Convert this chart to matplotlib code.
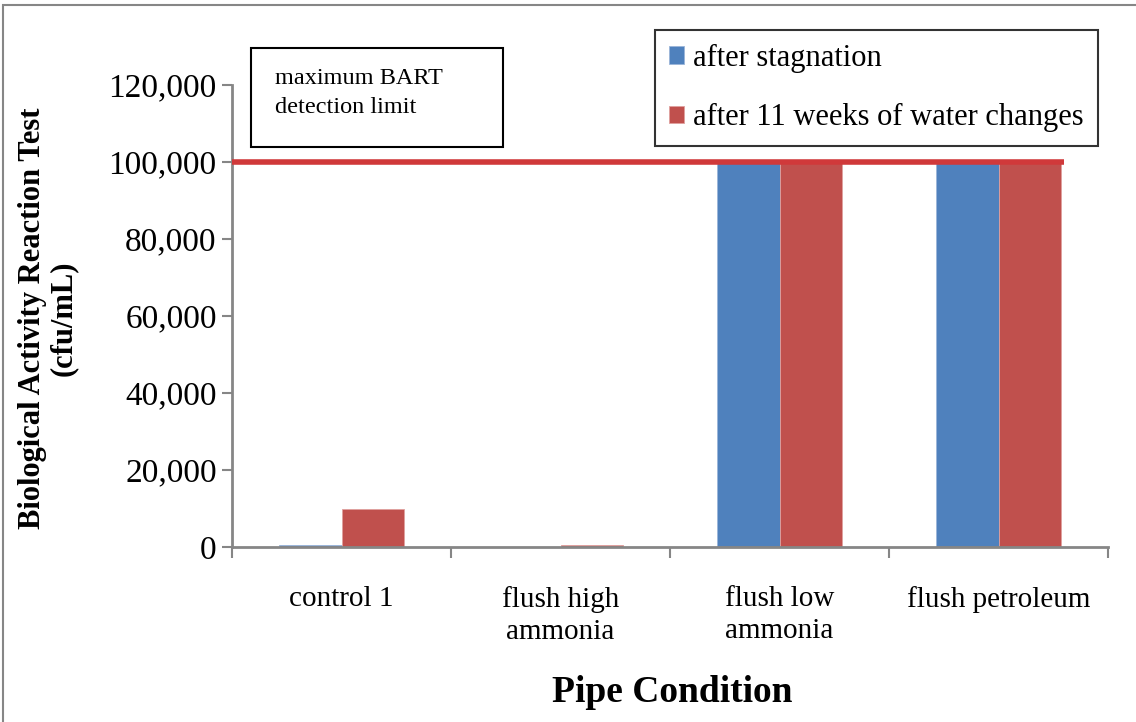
import numpy as np
import matplotlib.pyplot as plt
from matplotlib.patches import Rectangle
from matplotlib.ticker import FuncFormatter

plt.rcParams['font.family'] = ['Liberation Serif', 'DejaVu Serif']

categories = ['control 1', 'flush high\nammonia', 'flush low\nammonia', 'flush petroleum']
after_stagnation = [500, 0, 100000, 100000]
after_11_weeks = [10000, 500, 100000, 100000]
series_names = ['after stagnation', 'after 11 weeks of water changes']
detection_limit = 100000

blue = '#4F81BD'
red = '#C0504D'
grey = '#868686'

fig = plt.figure(figsize=(11.36, 7.22), dpi=100)
# outer chart border
fig.patches.append(Rectangle((0.003, -0.01), 1.2, 1.003, transform=fig.transFigure,
                             fill=False, edgecolor=grey, linewidth=1.5))

ax = fig.add_axes([232 / 1136, 1 - 547 / 722, 876 / 1136, 462 / 722])

x = np.arange(len(categories))
w = 1 / 3.5
b1 = ax.bar(x - w / 2, after_stagnation, w, color=blue, edgecolor='#9BB5D9', linewidth=0.6,
            label=series_names[0])
b2 = ax.bar(x + w / 2, after_11_weeks, w, color=red, edgecolor='#E0A09E', linewidth=0.6,
            label=series_names[1])

# detection limit line
ax.plot([-0.5, 3.3], [detection_limit, detection_limit], color='#D0393A', linewidth=4,
        solid_capstyle='butt', zorder=3)

ax.set_xlim(-0.5, 3.5)
ax.set_ylim(0, 120000)
ax.set_yticks(np.arange(0, 120001, 20000))
ax.yaxis.set_major_formatter(FuncFormatter(lambda v, p: f'{int(v):,}'))
ax.tick_params(axis='y', direction='out', length=7, width=1.5, color=grey,
               labelsize=24, pad=4)

ax.set_xticks(x)
ax.set_xticklabels(categories, linespacing=1.3)
ax.set_xticks(np.arange(-0.5, 3.6, 1), minor=True)
ax.tick_params(axis='x', which='major', length=0, labelsize=21, pad=28)
ax.tick_params(axis='x', which='minor', direction='out', length=8, width=1.5, color=grey)

for s in ['top', 'right']:
    ax.spines[s].set_visible(False)
for s in ['left', 'bottom']:
    ax.spines[s].set_color(grey)
    ax.spines[s].set_linewidth(2)

leg = fig.legend(handles=[b1, b2], loc='upper left',
                 bbox_to_anchor=(655 / 1136, 1 - 30 / 722), fontsize=22,
                 frameon=True, fancybox=False, edgecolor='black',
                 handlelength=0.5, handleheight=0.5, handletextpad=0.3,
                 labelspacing=1.0, borderpad=0.45, borderaxespad=0)
leg.get_frame().set_linewidth(1.5)

# text box for the detection limit
fig.patches.append(Rectangle((251 / 1136, 1 - 147 / 722), 252 / 1136, 99 / 722,
                             transform=fig.transFigure, fill=True, facecolor='white',
                             edgecolor='black', linewidth=1.5, zorder=5))
fig.text(275 / 1136, 1 - 93 / 722, 'maximum BART\ndetection limit', fontsize=17.5,
         va='center', ha='left', linespacing=1.55, zorder=6)

fig.text(48 / 1136, 1 - 318 / 722, 'Biological Activity Reaction Test\n(cfu/mL)',
         rotation=90, ha='center', va='center', multialignment='center',
         fontsize=22, fontweight='bold', linespacing=1.1)
fig.text(672 / 1136, 1 - 693 / 722, 'Pipe Condition', ha='center', va='center',
         fontsize=27, fontweight='bold')

fig.savefig('out.png', dpi=100)
